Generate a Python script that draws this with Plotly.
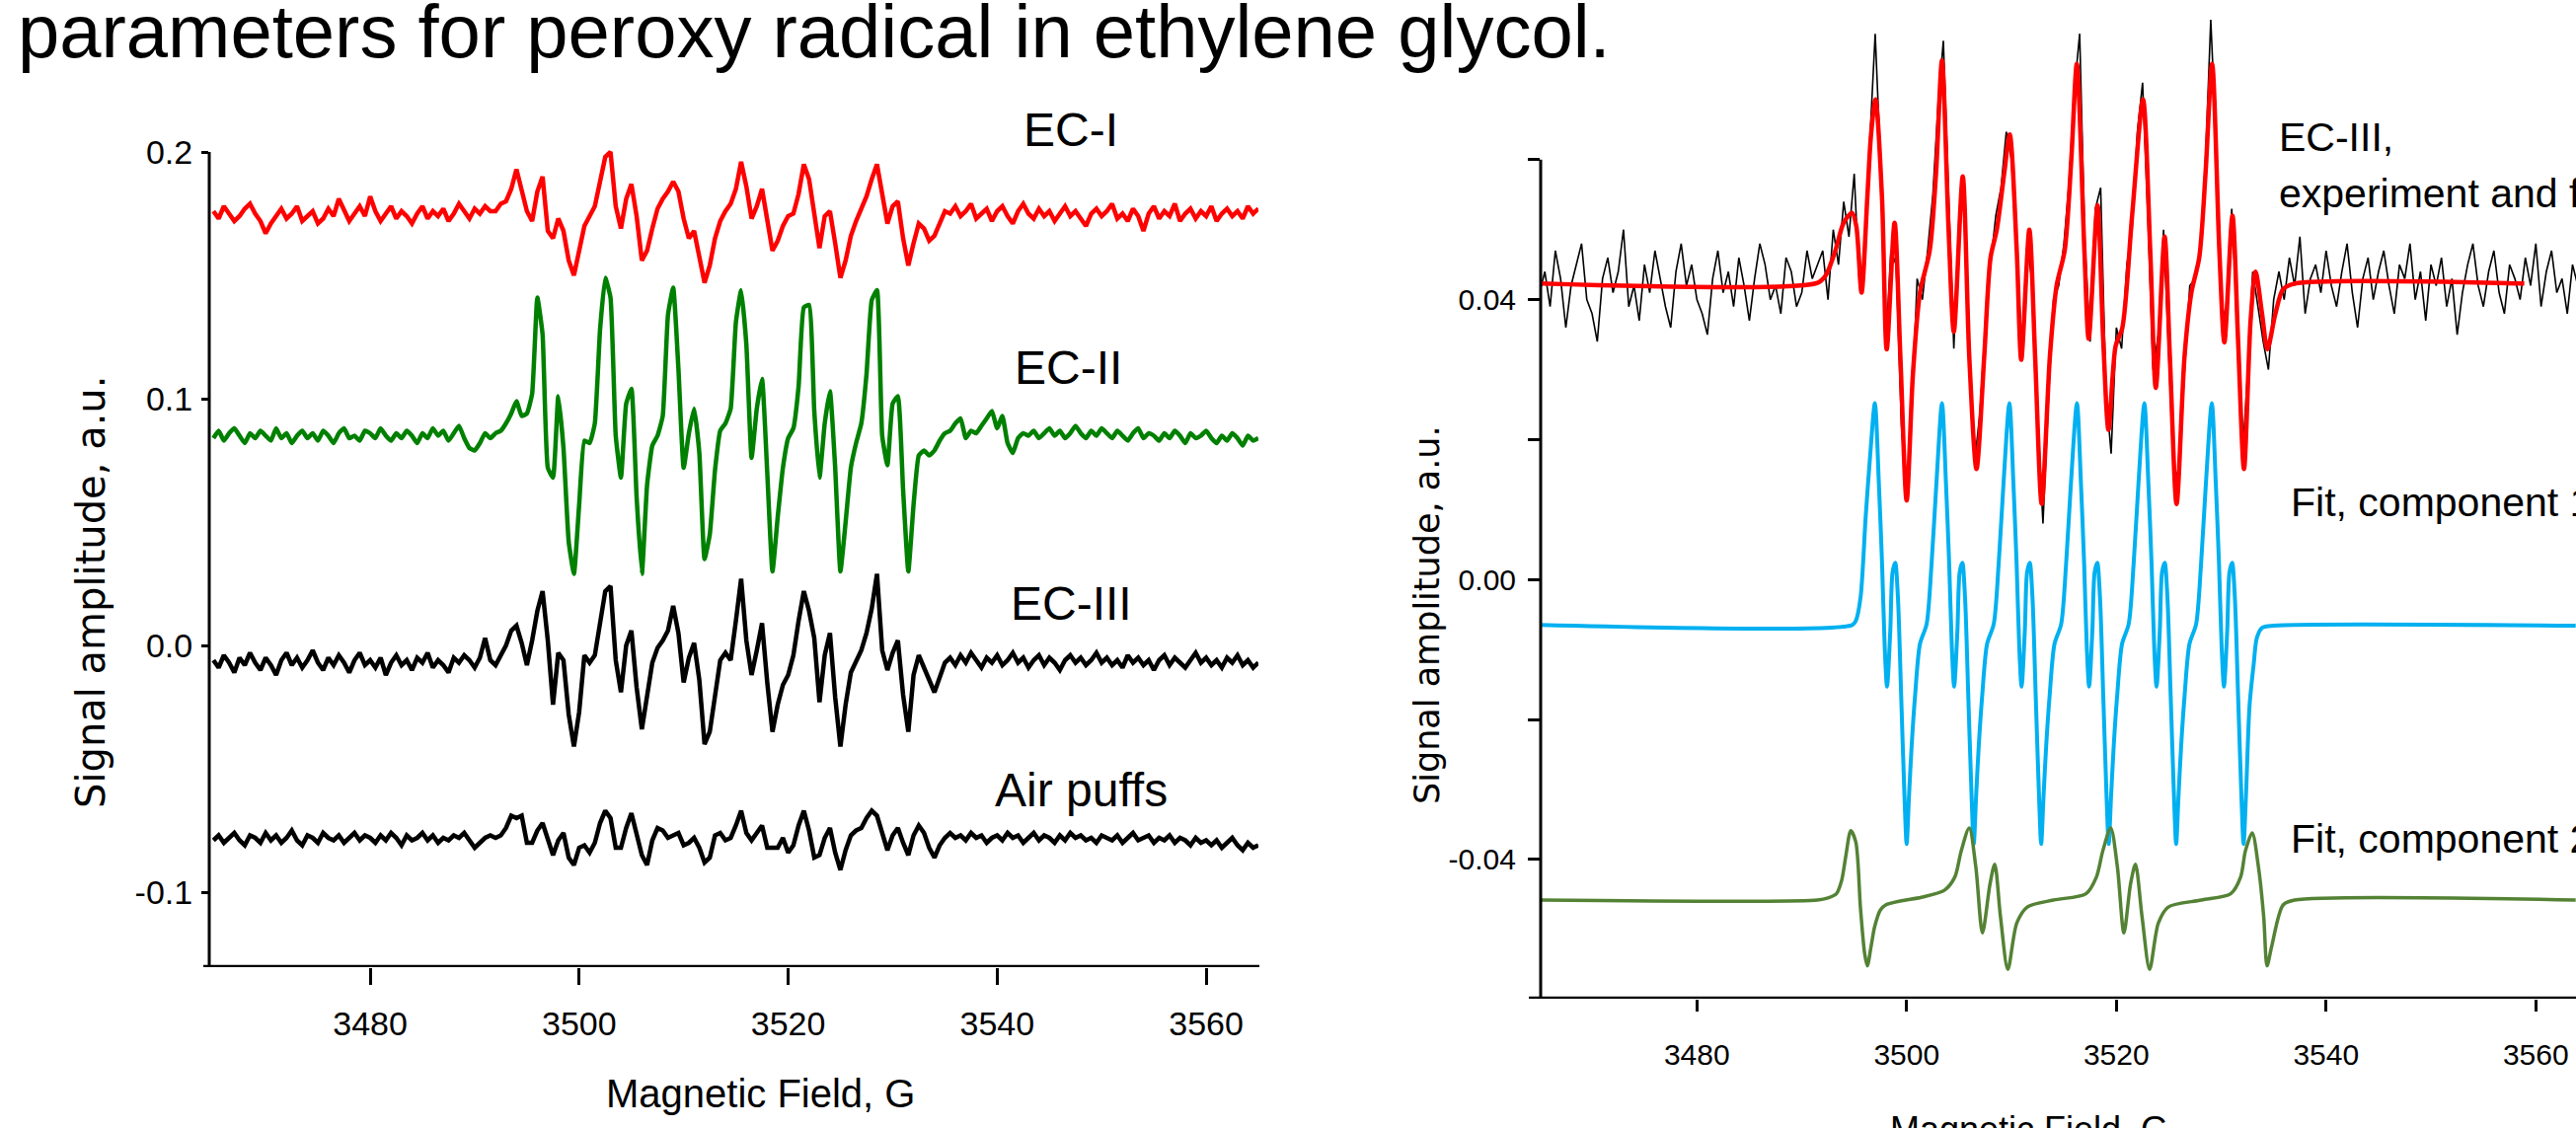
import plotly.graph_objects as go

# ---------------- shared field sweep (G) ----------------
FIELD_L = [3465.0,3465.5,3466.0,3466.5,3467.0,3467.5,3468.0,3468.5,3469.0,3469.5,
           3470.0,3470.5,3471.0,3471.5,3472.0,3472.5,3473.0,3473.5,3474.0,3474.5,
           3475.0,3475.5,3476.0,3476.5,3477.0,3477.5,3478.0,3478.5,3479.0,3479.5,
           3480.0,3480.5,3481.0,3481.5,3482.0,3482.5,3483.0,3483.5,3484.0,3484.5,
           3485.0,3485.5,3486.0,3486.5,3487.0,3487.5,3488.0,3488.5,3489.0,3489.5,
           3490.0,3490.5,3491.0,3491.5]
FIELD_S = [3492.0,3492.5,3493.0,3493.5,3494.0,3494.5,3495.0,3495.5,3496.0,3496.5,
           3497.0,3497.5,3498.0,3498.5,3499.0,3499.5,3500.0,3500.5,3501.0,3501.5,
           3502.0,3502.5,3503.0,3503.5,3504.0,3504.5,3505.0,3505.5,3506.0,3506.5,
           3507.0,3507.5,3508.0,3508.5,3509.0,3509.5,3510.0,3510.5,3511.0,3511.5,
           3512.0,3512.5,3513.0,3513.5,3514.0,3514.5,3515.0,3515.5,3516.0,3516.5,
           3517.0,3517.5,3518.0,3518.5,3519.0,3519.5,3520.0,3520.5,3521.0,3521.5,
           3522.0,3522.5,3523.0,3523.5,3524.0,3524.5,3525.0,3525.5,3526.0,3526.5,
           3527.0,3527.5,3528.0,3528.5,3529.0,3529.5,3530.0,3530.5,3531.0,3531.5,
           3532.0,3532.5,3533.0,3533.5,3534.0,3534.5,3535.0]
FIELD_R = [3535.5,3536.0,3536.5,3537.0,3537.5,3538.0,3538.5,3539.0,3539.5,3540.0,
           3540.5,3541.0,3541.5,3542.0,3542.5,3543.0,3543.5,3544.0,3544.5,3545.0,
           3545.5,3546.0,3546.5,3547.0,3547.5,3548.0,3548.5,3549.0,3549.5,3550.0,
           3550.5,3551.0,3551.5,3552.0,3552.5,3553.0,3553.5,3554.0,3554.5,3555.0,
           3555.5,3556.0,3556.5,3557.0,3557.5,3558.0,3558.5,3559.0,3559.5,3560.0,
           3560.5,3561.0,3561.5,3562.0,3562.5,3563.0,3563.5,3564.0,3564.5,3565.0]

# ---------------- left panel spectra (units of 1e-3 a.u.) ----------------
EC1_L = [176,173,178,175,172,174,177,179,175,172,
         167,171,174,177,173,175,178,172,174,176,
         171,173,177,174,181,176,172,175,178,174,
         182,176,172,175,178,173,176,174,171,175,
         178,173,176,174,177,172,175,179,176,173,
         177,175,178,176]
EC1_S = [176,179,180,185,193,185,176,172,184,190,
         168,165,173,168,156,150,160,170,174,178,
         188,198,200,178,169,181,187,174,156,160,
         169,177,181,184,188,184,173,165,168,158,
         147,154,165,172,176,179,185,196,186,173,
         178,185,171,160,164,170,174,175,183,195,
         189,176,161,174,176,163,149,156,166,172,
         177,182,189,195,183,171,178,180,165,154,
         163,171,169,164,166,171,176]
EC1_R = [175,178,174,176,179,173,175,177,172,176,
         178,174,171,176,179,175,173,177,174,176,
         172,175,178,174,176,173,170,175,177,174,
         176,179,173,175,172,177,174,168,175,178,
         173,176,174,179,172,175,177,173,176,174,
         178,172,175,177,174,176,173,178,175,177]

EC2_L = [84,87,83,86,88,85,82,86,84,87,
         85,83,88,84,86,82,85,87,84,86,
         83,87,85,82,86,88,84,85,83,87,
         86,84,88,85,83,86,84,87,85,82,
         86,84,88,85,87,83,86,89,84,80,
         79,82,86,84]
EC2_S = [86,87,90,94,99,93,94,102,141,126,
         72,68,101,80,42,29,57,83,82,90,
         128,149,141,85,68,98,104,60,29,65,
         81,85,93,134,145,112,72,86,96,78,
         35,45,71,87,90,96,131,144,122,76,
         96,108,70,30,52,72,84,88,105,137,
         138,95,68,90,103,72,30,50,72,82,
         90,110,140,144,85,73,98,101,63,30,
         57,77,79,77,79,83,86]
EC2_R = [87,90,92,84,87,86,89,92,95,88,
         93,82,78,84,86,85,87,84,86,88,
         85,87,84,86,89,86,84,87,85,88,
         86,84,87,85,83,86,88,84,86,85,
         83,86,84,87,85,82,86,84,85,87,
         84,82,85,83,86,84,81,85,83,84]

EC3_L = [-6,-9,-4,-7,-11,-5,-8,-3,-7,-10,
         -5,-8,-12,-6,-3,-8,-5,-9,-6,-2,
         -7,-10,-5,-8,-4,-7,-11,-6,-3,-8,
         -6,-9,-5,-12,-7,-4,-8,-6,-10,-5,
         -7,-3,-9,-6,-8,-11,-5,-7,-4,-6,
         -9,-5,3,-6]
EC3_S = [-8,-4,0,6,8,1,-8,2,14,22,
         2,-24,-3,-6,-28,-41,-27,-4,-7,-4,
         8,22,24,-6,-19,0,6,-17,-34,-20,
         -7,-1,2,6,16,5,-15,-5,1,-14,
         -40,-35,-20,-6,-3,-6,10,27,2,-12,
         -2,9,-15,-35,-24,-16,-12,-4,10,22,
         14,3,-23,-4,5,-21,-41,-24,-11,-6,
         -2,5,15,29,-2,-10,-3,2,-20,-35,
         -12,-4,-9,-15,-19,-13,-7]
EC3_R = [-5,-8,-4,-7,-3,-6,-9,-5,-7,-4,
         -8,-6,-3,-7,-5,-9,-6,-4,-8,-5,
         -7,-10,-6,-4,-7,-5,-8,-6,-3,-7,
         -5,-8,-6,-9,-4,-7,-5,-8,-6,-10,
         -6,-4,-8,-5,-7,-9,-6,-3,-7,-5,
         -8,-6,-9,-5,-7,-4,-8,-6,-9,-7]

AIR_L = [-79,-77,-80,-78,-76,-79,-81,-77,-78,-80,
         -76,-79,-77,-80,-78,-75,-79,-81,-77,-78,
         -80,-76,-78,-79,-77,-80,-78,-76,-79,-77,
         -78,-80,-77,-79,-76,-78,-81,-77,-79,-78,
         -76,-79,-77,-80,-78,-79,-77,-78,-76,-79,
         -82,-80,-78,-77]
AIR_S = [-78,-77,-74,-69,-70,-69,-80,-80,-75,-72,
         -79,-85,-79,-76,-86,-89,-82,-81,-84,-80,
         -72,-67,-70,-82,-82,-74,-68,-76,-85,-89,
         -79,-74,-75,-78,-77,-76,-81,-80,-78,-82,
         -88,-86,-77,-76,-79,-78,-73,-67,-76,-79,
         -76,-73,-82,-82,-82,-78,-84,-81,-73,-67,
         -75,-86,-85,-78,-74,-84,-91,-83,-77,-75,
         -74,-70,-67,-69,-76,-83,-77,-74,-80,-85,
         -77,-73,-76,-82,-86,-81,-78]
AIR_R = [-76,-78,-77,-79,-76,-78,-77,-80,-78,-77,
         -79,-76,-78,-77,-80,-78,-76,-79,-77,-78,
         -80,-77,-79,-76,-78,-77,-79,-78,-80,-77,
         -78,-79,-77,-80,-78,-76,-79,-78,-77,-80,
         -78,-79,-77,-80,-78,-79,-81,-78,-80,-79,
         -81,-79,-82,-80,-78,-81,-83,-80,-82,-81]

# ---------------- right panel (units of 1e-3 a.u.) ----------------
EXP_L = [41,44,39,47,43,36,42,45,48,40,
         38,34,43,46,41,44,50,39,42,37,
         45,41,47,43,39,36,44,48,42,45,
         40,38,35,43,47,41,44,39,46,42,
         37,43,48,45,40,42,38,46,44,39,
         41,47,43,45]
EXP_S = [47,40,50,45,54,49,58,42,45,63,
         78,60,33,47,45,22,12,24,43,40,
         47,55,68,77,55,33,52,56,33,17,
         24,36,45,52,56,64,60,47,33,48,
         42,23,8,25,40,42,48,57,70,78,
         48,34,53,56,27,18,36,33,45,50,
         64,71,52,30,35,50,33,14,16,30,
         42,43,47,60,80,63,40,36,53,38,
         17,29,44,39,34,30,40]
EXP_R = [44,40,46,42,49,38,43,45,41,47,
         42,39,44,48,41,36,43,46,40,44,
         47,42,38,45,43,48,40,44,37,45,
         42,46,39,43,35,41,45,48,42,39,
         44,47,41,38,45,43,40,46,42,48,
         39,44,47,41,43,38,45,42,46,40]

FIT_X = [3465.1,3491.5,3492.3,3493.2,3494.0,3494.8,3495.2,3495.7,3496.25,3496.6,
         3497.03,3497.65,3498.1,3498.85,3499.4,3500.0,3500.6,3501.27,3502.2,3502.8,
         3503.37,3504.0,3504.5,3505.35,3505.97,3506.66,3507.4,3508.0,3508.6,3509.3,
         3509.83,3510.5,3510.93,3511.7,3512.25,3512.88,3513.66,3514.3,3515.07,3515.7,
         3516.23,3516.95,3517.36,3518.2,3518.74,3519.25,3519.93,3520.56,3521.5,
         3522.54,3523.23,3523.76,3524.6,3525.1,3525.74,3526.5,3527.15,3527.9,3528.5,
         3529.13,3529.82,3530.3,3531.07,3531.6,3532.17,3532.8,3533.27,3533.9,3534.4,
         3535.15,3535.9,3537.0,3558.9]
FIT_Y = [42.3,42.4,43.5,47.0,51.0,52.4,50.5,41.0,54.6,63.5,
         68.6,54.6,32.9,51.0,31.9,11.3,29.4,41.0,47.0,58.0,
         74.2,50.0,35.4,57.6,31.9,15.8,31.9,46.0,50.0,58.0,
         63.6,47.0,31.4,50.0,31.9,10.8,31.9,42.0,47.0,60.0,
         73.7,47.0,34.4,53.5,34.4,21.4,33.4,35.9,52.0,
         68.6,47.0,27.4,49.0,31.9,10.8,31.9,41.0,46.0,58.0,
         73.7,47.0,33.9,52.0,34.4,15.8,37.0,44.0,37.9,32.9,
         37.9,41.5,42.3,42.3]

COMP1_X = [3465.1,3494.8,3495.15,3495.6,3496.1,3496.56,
           3496.97,3497.35,3497.66,3497.91,3498.13,3498.44,3498.66,3498.91,3499.17,3499.48,
           3499.79,3500.0,3500.23,3500.48,3500.8,3501.27,3501.9,3502.37,3502.84,
           3503.37,3503.75,3504.06,3504.31,3504.53,3504.84,3505.06,3505.31,3505.57,3505.88,
           3506.19,3506.4,3506.63,3506.88,3507.2,3507.67,3508.3,3508.77,3509.24,
           3509.8,3510.18,3510.49,3510.74,3510.96,3511.27,3511.49,3511.74,3512.0,3512.31,
           3512.62,3512.83,3513.06,3513.31,3513.63,3514.1,3514.73,3515.2,3515.67,
           3516.24,3516.62,3516.93,3517.18,3517.4,3517.71,3517.93,3518.18,3518.44,3518.75,
           3519.06,3519.27,3519.5,3519.75,3520.07,3520.54,3521.17,3521.64,3522.11,
           3522.67,3523.05,3523.36,3523.61,3523.83,3524.14,3524.36,3524.61,3524.87,3525.18,
           3525.49,3525.7,3525.93,3526.18,3526.5,3526.97,3527.6,3528.07,3528.54,
           3529.1,3529.48,3529.79,3530.04,3530.26,3530.57,3530.79,3531.04,3531.3,3531.61,
           3531.92,3532.13,3532.36,3532.7,3533.1,3533.4,3533.9,3535.0,3563.8]
COMP1_Y = [-6.5,-6.5,-5.9,-2.6,9.1,18.5,
           25.2,13.8,2.1,-9.7,-15.3,-7.3,1.1,2.4,-2.6,-16.7,
           -30.8,-37.8,-30.8,-23.7,-16.7,-9.2,-6.4,2.1,13.8,
           25.2,13.8,2.1,-9.7,-15.3,-7.3,1.1,2.4,-2.6,-16.7,
           -30.8,-37.8,-30.8,-23.7,-16.7,-9.2,-6.4,2.1,13.8,
           25.2,13.8,2.1,-9.7,-15.3,-7.3,1.1,2.4,-2.6,-16.7,
           -30.8,-37.8,-30.8,-23.7,-16.7,-9.2,-6.4,2.1,13.8,
           25.2,13.8,2.1,-9.7,-15.3,-7.3,1.1,2.4,-2.6,-16.7,
           -30.8,-37.8,-30.8,-23.7,-16.7,-9.2,-6.4,2.1,13.8,
           25.2,13.8,2.1,-9.7,-15.3,-7.3,1.1,2.4,-2.6,-16.7,
           -30.8,-37.8,-30.8,-23.7,-16.7,-9.2,-6.4,2.1,13.8,
           25.2,13.8,2.1,-9.7,-15.3,-7.3,1.1,2.4,-2.6,-16.7,
           -30.8,-37.8,-30.8,-18.0,-12.0,-8.3,-6.9,-6.6,-6.6]

COMP2_X = [3465.1,3491.5,3492.5,3493.3,3493.8,3494.2,3494.67,3495.15,3495.6,3496.0,
           3496.25,3496.6,3496.95,3497.5,3498.0,3499.5,3501.4,3503.6,3504.6,3505.2,
           3505.97,3506.6,3507.23,3507.95,3508.4,3508.95,3509.65,3510.5,3511.5,3514.0,
           3517.1,3518.1,3518.7,3519.46,3520.1,3520.72,3521.35,3521.82,3522.45,3523.17,
           3524.0,3524.95,3528.1,3530.9,3531.85,3532.3,3532.95,3533.55,3534.05,3534.37,
           3534.8,3535.9,3537.0,3563.8]
COMP2_Y = [-45.8,-45.8,-45.5,-44.9,-43.0,-39.5,-35.9,-37.5,-47.0,-53.5,
           -55.2,-52.5,-49.6,-47.2,-46.5,-45.9,-45.4,-44.4,-42.5,-38.8,
           -35.5,-41.1,-50.5,-43.5,-40.7,-48.2,-55.7,-49.1,-46.8,-45.8,
           -44.9,-42.5,-38.8,-35.5,-41.1,-50.5,-43.5,-40.7,-48.2,-55.7,
           -49.1,-46.8,-45.8,-44.9,-42.5,-38.8,-36.2,-41.1,-48.2,-55.2,
           -52.5,-46.5,-45.8,-45.8]

X_TICKS = [3480, 3500, 3520, 3540, 3560]
L_YTICKS = [0.2, 0.1, 0.0, -0.1]
L_YTEXT = ["0.2", "0.1", "0.0", "-0.1"]
R_YTICKS = [0.06, 0.04, 0.02, 0.0, -0.02, -0.04, -0.06]
R_YTEXT = ["", "0.04", "", "0.00", "", "-0.04", ""]

# ---------------- figure ----------------
W, H = 2610, 1143
FONT = "Liberation Sans, Arial, Helvetica, sans-serif"


def milli(v):
    return [a * 1e-3 for a in v]


fig = go.Figure()
FX = FIELD_L + FIELD_S + FIELD_R

left = [(EC1_L + EC1_S + EC1_R, "#FF0000", "linear"),
        (EC2_L + EC2_S + EC2_R, "#008000", "spline"),
        (EC3_L + EC3_S + EC3_R, "#000000", "linear"),
        (AIR_L + AIR_S + AIR_R, "#000000", "linear")]
for ys, col, shp in left:
    line = dict(color=col, width=4.5, shape=shp)
    if shp == "spline":
        line["smoothing"] = 0.4
    fig.add_trace(go.Scatter(x=FX, y=milli(ys), mode="lines", xaxis="x", yaxis="y",
                             line=line, hoverinfo="skip"))

fig.add_trace(go.Scatter(x=FX, y=milli(EXP_L + EXP_S + EXP_R), mode="lines",
                         xaxis="x2", yaxis="y2",
                         line=dict(color="#000000", width=1.6), hoverinfo="skip"))
fig.add_trace(go.Scatter(x=FIT_X, y=milli(FIT_Y), mode="lines", xaxis="x2", yaxis="y2",
                         line=dict(color="#FF0000", width=4.5, shape="spline", smoothing=0.8),
                         hoverinfo="skip"))
fig.add_trace(go.Scatter(x=COMP1_X, y=milli(COMP1_Y), mode="lines", xaxis="x2", yaxis="y2",
                         line=dict(color="#00B0F0", width=4, shape="spline", smoothing=0.8),
                         hoverinfo="skip"))
fig.add_trace(go.Scatter(x=COMP2_X, y=milli(COMP2_Y), mode="lines", xaxis="x2", yaxis="y2",
                         line=dict(color="#548235", width=3.5, shape="spline", smoothing=0.8),
                         hoverinfo="skip"))


def px_x(p):
    return p / W


def px_y(p):
    return 1 - p / H


L_XR = [3464.6, 3565.0]
L_YR = [-0.1304, 0.2096]
R_XR = [3465.1, 3563.83]
R_YR = [-0.0599, 0.0800]

tickfont_l = dict(family=FONT, size=34, color="black")
tickfont_r = dict(family=FONT, size=30, color="black")

fig.update_layout(
    width=W, height=H,
    margin=dict(l=0, r=0, t=0, b=0),
    paper_bgcolor="white", plot_bgcolor="white",
    showlegend=False,
    font=dict(family=FONT, color="black"),
    xaxis=dict(domain=[px_x(212), px_x(1275)], range=L_XR, anchor="y",
               showgrid=False, zeroline=False, showline=False,
               tickmode="array", tickvals=X_TICKS, ticks="outside", ticklen=17,
               tickwidth=2.5, tickcolor="black", tickfont=tickfont_l,
               ticklabelstandoff=10),
    yaxis=dict(domain=[px_y(980), px_y(130)], range=L_YR, anchor="x",
               showgrid=False, zeroline=False, showline=False,
               tickmode="array", tickvals=L_YTICKS, ticktext=L_YTEXT,
               ticks="outside", ticklen=7, tickwidth=2.5, tickcolor="black",
               tickfont=tickfont_l, ticklabelstandoff=2),
    xaxis2=dict(domain=[px_x(1561), 1.0], range=R_XR, anchor="y2",
                showgrid=False, zeroline=False, showline=False,
                tickmode="array", tickvals=X_TICKS, ticks="outside", ticklen=12,
                tickwidth=2.5, tickcolor="black", tickfont=tickfont_r,
                ticklabelstandoff=18),
    yaxis2=dict(domain=[px_y(1012), px_y(20)], range=R_YR, anchor="x2",
                showgrid=False, zeroline=False, showline=False,
                tickmode="array", tickvals=R_YTICKS, ticktext=R_YTEXT,
                ticks="outside", ticklen=12, tickwidth=2.5, tickcolor="black",
                tickfont=tickfont_r, ticklabelstandoff=6),
)

# axis lines
shapes = [
    dict(type="line", xref="x domain", yref="y", x0=0, x1=0, y0=0.2, y1=L_YR[0],
         line=dict(color="black", width=3)),
    dict(type="line", xref="paper", yref="y", x0=px_x(206), x1=px_x(1276),
         y0=L_YR[0], y1=L_YR[0], line=dict(color="black", width=4.5)),
    dict(type="line", xref="x2 domain", yref="y2", x0=0, x1=0, y0=0.06, y1=R_YR[0],
         line=dict(color="black", width=3)),
    dict(type="line", xref="paper", yref="y2", x0=px_x(1549), x1=1.0,
         y0=R_YR[0], y1=R_YR[0], line=dict(color="black", width=4.5)),
]
fig.update_layout(shapes=shapes)


def label(text, xp, yp, size, xanchor="center", yanchor="middle", angle=0, family=FONT):
    fig.add_annotation(text=text, xref="paper", yref="paper", x=px_x(xp), y=px_y(yp),
                       xanchor=xanchor, yanchor=yanchor, showarrow=False, textangle=angle,
                       font=dict(family=family, size=size, color="black"))


label("parameters for peroxy radical in ethylene glycol.", 16, 76, 76,
      xanchor="left", yanchor="bottom")
label("EC-I", 1085, 132, 48)
label("EC-II", 1082, 373, 48)
label("EC-III", 1085, 611, 48)
label("Air puffs", 1095, 800, 48)
label("Magnetic Field, G", 770, 1108, 40)
label("Signal amplitude, a.u.", 92, 600, 40, angle=-90,
      family="DejaVu Sans, Verdana, sans-serif")

label("EC-III,", 2307, 139, 41, xanchor="left")
label("experiment and fit", 2307, 196, 41, xanchor="left")
label("Fit, component 1", 2319, 509, 41, xanchor="left")
label("Fit, component 2", 2319, 850, 41, xanchor="left")
label("Signal amplitude, a.u.", 1446, 623, 35, angle=-90,
      family="DejaVu Sans, Verdana, sans-serif")
label("Magnetic Field, G", 2056, 1122, 36, yanchor="top")

fig.write_html("out.html")
